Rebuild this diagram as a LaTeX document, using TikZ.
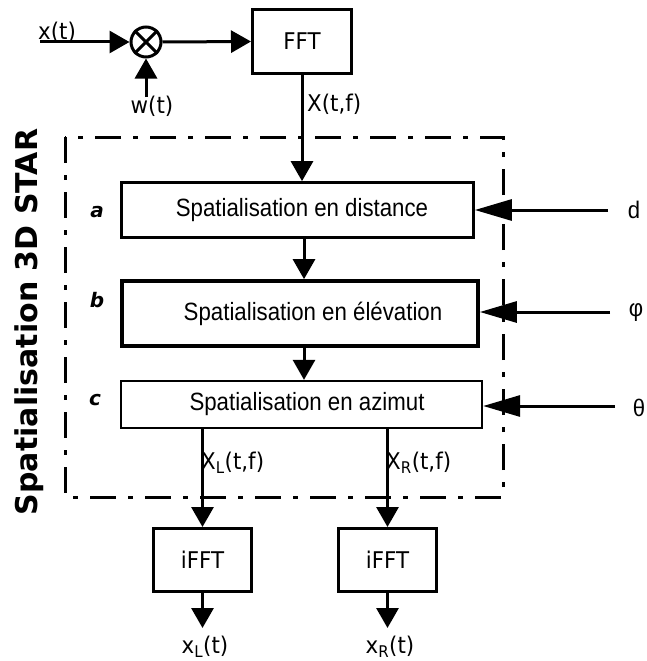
\documentclass[tikz,border=0pt]{standalone}
\usepackage{fontspec}
\setmainfont{DejaVu Sans}
\newfontfamily\dejavu{DejaVu Sans}
\newfontfamily\dejavun[FakeStretch=0.93]{DejaVu Sans}
\newfontfamily\arialn[FakeStretch=0.89]{Liberation Sans}
\newfontfamily\arial[FakeStretch=0.92]{Liberation Sans}
\usetikzlibrary{arrows.meta}
\begin{document}
\begin{tikzpicture}[x=1pt,y=-1pt,
  conn/.style={line width=3pt,-{Triangle[length=20pt,width=22pt]}},
  sideconn/.style={line width=3pt,-{Triangle[length=37pt,width=21pt]}},
  lab/.style={font=\dejavun\fontsize{23}{27}\selectfont, inner sep=0pt},
  blk/.style={draw, line width=3pt, inner sep=0pt, font=\dejavun\fontsize{23}{27}\selectfont},
  stage/.style={draw, inner sep=0pt, font=\arialn\fontsize{25}{30}\selectfont},
  letter/.style={font=\dejavu\bfseries\itshape\fontsize{20}{24}\selectfont, inner sep=0pt},
  param/.style={font=\arial\fontsize{24}{28}\selectfont, inner sep=0pt},
  dashdot/.style={line width=3pt, dash pattern=on 26pt off 12pt on 5pt off 12pt}]
\useasboundingbox (0,0) rectangle (647,661);

% frame
\draw[dashdot] (65,137) rectangle (503,497);
\node[rotate=90, anchor=base, inner sep=0pt, font=\dejavu\bfseries\fontsize{30}{34}\selectfont] (title) at (37,322) {Spatialisation 3D STAR};

% top chain
\node[circle, draw, line width=3pt, minimum size=30pt, inner sep=0pt] (mult) at (146,42) {};
\draw[line width=3pt] (mult.45) -- (mult.225) (mult.135) -- (mult.315);
\node[blk, minimum width=99pt, minimum height=64pt] (fft) at (302,41.5) {FFT};
\coordinate (xin) at (40,42);
\coordinate (win) at (146,97);
\draw[conn] (xin) -- (mult.west);
\draw[conn] (win) -- (mult.south);
\draw[conn] (mult.east) -- (fft.west);
\node[lab, anchor=south west] (xt) at (38,43) {x(t)};
\node[lab] (wt) at (152,106) {w(t)};

% stages
\node[stage, line width=2.7pt, minimum width=352pt, minimum height=55pt] (boxa) at (297.5,210) {\hspace*{9pt}Spatialisation en distance};
\node[stage, line width=3.7pt, minimum width=356pt, minimum height=65pt] (boxb) at (300,313.5) {\hspace*{26pt}Spatialisation en élévation};
\node[stage, line width=2.3pt, minimum width=361pt, minimum height=47pt] (boxc) at (301.5,404.5) {\hspace*{11pt}Spatialisation en azimut};

\node[letter] (la) at (97,212) {a};
\node[letter] (lb) at (97,300) {b};
\node[letter] (lc) at (95,400) {c};

\draw[conn] (fft.south) -- (fft.south |- boxa.north);
\node[lab, anchor=west] (xtf) at (307,104) {X(t,f)};
\draw[conn] ([xshift=6.5pt]boxa.south) -- ([xshift=6.5pt]boxa.south |- boxb.north);
\draw[conn] ([xshift=4pt]boxb.south) -- ([xshift=4pt]boxb.south |- boxc.north);

% parameters
\node[param] (pd) at (634,210) {d};
\node[param] (pphi) at (636,313) {φ};
\node[param] (ptheta) at (639,408) {θ};
\coordinate (din) at (608,210);
\coordinate (phiin) at (610,312);
\coordinate (thin) at (615,406);
\draw[sideconn] (din) -- (din -| boxa.east);
\draw[sideconn] (phiin) -- (phiin -| boxb.east);
\draw[sideconn] (thin) -- (thin -| boxc.east);

% outputs
\node[blk, minimum width=98pt, minimum height=63pt] (ifftL) at (202.5,560) {iFFT};
\node[blk, minimum width=98pt, minimum height=63pt] (ifftR) at (387.5,560) {iFFT};
\draw[conn] (boxc.south -| ifftL.north) -- (ifftL.north);
\draw[conn] (boxc.south -| ifftR.north) -- (ifftR.north);
\node[lab, anchor=west] (xlf) at (201,463) {X\textsubscript{L}(t,f)};
\node[lab, anchor=west] (xrf) at (386,463) {X\textsubscript{R}(t,f)};
\coordinate (outL) at (202.5,628);
\coordinate (outR) at (387.5,628);
\draw[conn] (ifftL.south) -- (outL);
\draw[conn] (ifftR.south) -- (outR);
\node[lab] (xlt) at (205,647) {x\textsubscript{L}(t)};
\node[lab] (xrt) at (390,647) {x\textsubscript{R}(t)};
\end{tikzpicture}
\end{document}
